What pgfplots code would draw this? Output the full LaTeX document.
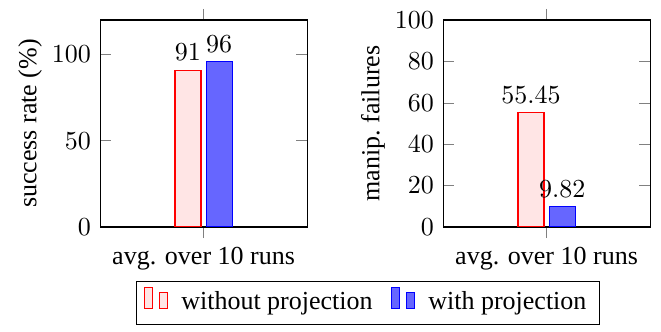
\documentclass[border=0pt]{standalone}
\usepackage{fontspec}
\setmainfont{Liberation Serif}
\usepackage{pgfplots}
\pgfplotsset{compat=1.18}
\begin{document}
\begin{tikzpicture}
\pgfplotsset{
  mybars/.style={
    ybar, bar width=10pt,
    scale only axis, width=79.6pt, height=79.6pt,
    xmin=-1, xmax=1, xtick={0}, xticklabels={avg. over 10 runs},
    xtick align=outside,
    ymin=0,
    ylabel shift=-3pt,
    nodes near coords,
    every node near coord/.append style={font=\normalsize},
  },
}
\begin{axis}[mybars, at={(0,0)}, anchor=south west,
  ymax=120, ytick={0,50,100},
  ylabel={success rate ($\%$)},
  legend columns=2,
  legend style={at={(1.293,-0.261)}, anchor=north, draw=black,
    /tikz/every even column/.append style={column sep=5pt}},
]
\addplot[draw=red, fill=red!10] coordinates {(0,91)};
\addplot[draw=blue, fill=blue!60] coordinates {(0,96)};
\legend{\hspace{3pt}without projection, \hspace{3pt}with projection}
\end{axis}
\begin{axis}[mybars, at={(131.9pt,0)}, anchor=south west,
  ymax=100, ytick={0,20,40,60,80,100},
  ylabel={manip.\ failures},
]
\addplot[draw=red, fill=red!10] coordinates {(0,55.45)};
\addplot[draw=blue, fill=blue!60] coordinates {(0,9.82)};
\end{axis}
\pgfresetboundingbox
\useasboundingbox (-38.5pt,-40pt) rectangle (215.7pt,87.3pt);
\end{tikzpicture}
\end{document}
